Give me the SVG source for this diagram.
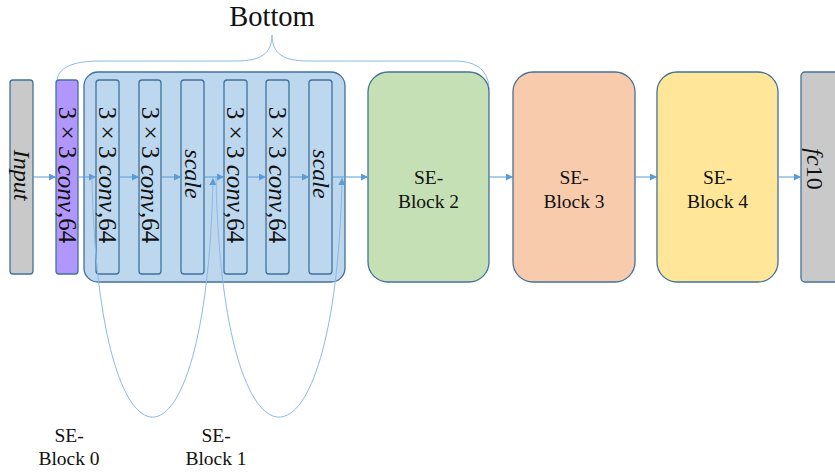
<svg xmlns="http://www.w3.org/2000/svg" width="835" height="472" viewBox="0 0 835 472">
<defs>
<style>
.box{stroke:#41719c;stroke-width:1.3}
.gray{fill:#c9c9c9}
.blue{fill:#bdd7ee}
.lbl{font-family:"Liberation Serif",serif;font-size:24px;fill:#111}
.cv{font-size:25px}
.it{font-style:italic}
.blk{font-family:"Liberation Serif",serif;font-size:19.5px;fill:#111;text-anchor:middle}
.conn{fill:none;stroke:#5b9bd5;stroke-width:1}
.curve{fill:none;stroke:#8db9e6;stroke-width:1}
</style>
<marker id="arr" viewBox="0 0 10 10" refX="10" refY="5" markerWidth="7" markerHeight="7" markerUnits="userSpaceOnUse" orient="auto">
<path d="M0,0 L10,5 L0,10 z" fill="#5b9bd5"/>
</marker>
</defs>
<rect width="835" height="472" fill="#fff"/>

<g id="bottom-brace">
<path class="curve" d="M57,82 C57,68 72,61 100,61 L 236,61 C 260,61 272,54 272,35 C 272,54 284,61 308,61 L 455,61 C 478,61 489,72 489,90"/>
<text x="272" y="26" font-family="Liberation Serif, serif" font-size="28.5" text-anchor="middle" fill="#111">Bottom</text>
</g>

<g id="input">
<rect class="box gray" x="10" y="80" width="23" height="194" rx="3"/>
<text class="lbl it" transform="translate(21.5,175) rotate(90)" text-anchor="middle" dominant-baseline="central">Input</text>
</g>

<g id="conv0">
<rect class="box" fill="#b197fc" x="56" y="80" width="22" height="194" rx="3"/>
<text class="lbl cv" transform="translate(67,175) rotate(90)" text-anchor="middle" dominant-baseline="central">3 × 3 <tspan class="it">conv</tspan>,64</text>
</g>

<g id="se-block-1-container">
<rect class="box blue" x="84" y="72" width="261" height="210" rx="14"/>
</g>

<g id="conv1">
<rect class="box blue" x="96" y="80" width="23" height="194" rx="3"/>
<text class="lbl cv" transform="translate(107.5,175) rotate(90)" text-anchor="middle" dominant-baseline="central">3 × 3 <tspan class="it">conv</tspan>,64</text>
</g>
<g id="conv2">
<rect class="box blue" x="139" y="80" width="22" height="194" rx="3"/>
<text class="lbl cv" transform="translate(150,175) rotate(90)" text-anchor="middle" dominant-baseline="central">3 × 3 <tspan class="it">conv</tspan>,64</text>
</g>
<g id="scale1">
<rect class="box blue" x="181" y="80" width="23" height="194" rx="3"/>
<text class="lbl it" transform="translate(192.5,174) rotate(90)" text-anchor="middle" dominant-baseline="central">scale</text>
</g>
<g id="conv3">
<rect class="box blue" x="224" y="80" width="23" height="194" rx="3"/>
<text class="lbl cv" transform="translate(235.5,175) rotate(90)" text-anchor="middle" dominant-baseline="central">3 × 3 <tspan class="it">conv</tspan>,64</text>
</g>
<g id="conv4">
<rect class="box blue" x="266" y="80" width="23" height="194" rx="3"/>
<text class="lbl cv" transform="translate(277.5,175) rotate(90)" text-anchor="middle" dominant-baseline="central">3 × 3 <tspan class="it">conv</tspan>,64</text>
</g>
<g id="scale2">
<rect class="box blue" x="309" y="80" width="23" height="194" rx="3"/>
<text class="lbl it" transform="translate(320.5,174) rotate(90)" text-anchor="middle" dominant-baseline="central">scale</text>
</g>

<g id="se-block-2">
<rect class="box" fill="#c5e0b4" x="368" y="72" width="121" height="210" rx="20"/>
<text class="blk" x="428.5" y="184">SE-</text>
<text class="blk" x="428.5" y="208">Block 2</text>
</g>
<g id="se-block-3">
<rect class="box" fill="#f8cbad" x="513" y="72" width="122" height="210" rx="20"/>
<text class="blk" x="574" y="184">SE-</text>
<text class="blk" x="574" y="208">Block 3</text>
</g>
<g id="se-block-4">
<rect class="box" fill="#ffe699" x="657" y="72" width="121" height="210" rx="20"/>
<text class="blk" x="717.5" y="184">SE-</text>
<text class="blk" x="717.5" y="208">Block 4</text>
</g>
<g id="fc10">
<rect class="box gray" x="801" y="72" width="40" height="210" rx="4"/>
<text class="lbl" font-size="26" transform="translate(815,169) rotate(90)" text-anchor="middle" dominant-baseline="central"><tspan class="it">fc</tspan>10</text>
</g>

<g id="se-block-0-label">
<text class="blk" x="69" y="442">SE-</text>
<text class="blk" x="69" y="465">Block 0</text>
</g>
<g id="se-block-1-label">
<text class="blk" x="216" y="442">SE-</text>
<text class="blk" x="216" y="465">Block 1</text>
</g>

<g id="connectors">
<line class="conn" x1="33" y1="177" x2="56" y2="177" marker-end="url(#arr)"/>
<line class="conn" x1="78" y1="177" x2="96" y2="177" marker-end="url(#arr)"/>
<line class="conn" x1="119" y1="177" x2="139" y2="177" marker-end="url(#arr)"/>
<line class="conn" x1="161" y1="177" x2="181" y2="177" marker-end="url(#arr)"/>
<line class="conn" x1="204" y1="177" x2="224" y2="177" marker-end="url(#arr)"/>
<line class="conn" x1="247" y1="177" x2="266" y2="177" marker-end="url(#arr)"/>
<line class="conn" x1="289" y1="177" x2="309" y2="177" marker-end="url(#arr)"/>
<line class="conn" x1="332" y1="177" x2="368" y2="177" marker-end="url(#arr)"/>
<line class="conn" x1="489" y1="177" x2="513" y2="177" marker-end="url(#arr)"/>
<line class="conn" x1="635" y1="177" x2="657" y2="177" marker-end="url(#arr)"/>
<line class="conn" x1="778" y1="177" x2="801" y2="177" marker-end="url(#arr)"/>
<path class="curve" d="M92,177 C98,497 207,497 213,178" marker-end="url(#arr)"/>
<path class="curve" d="M216,177 C222,497 336,497 342,178" marker-end="url(#arr)"/>
</g>
</svg>
